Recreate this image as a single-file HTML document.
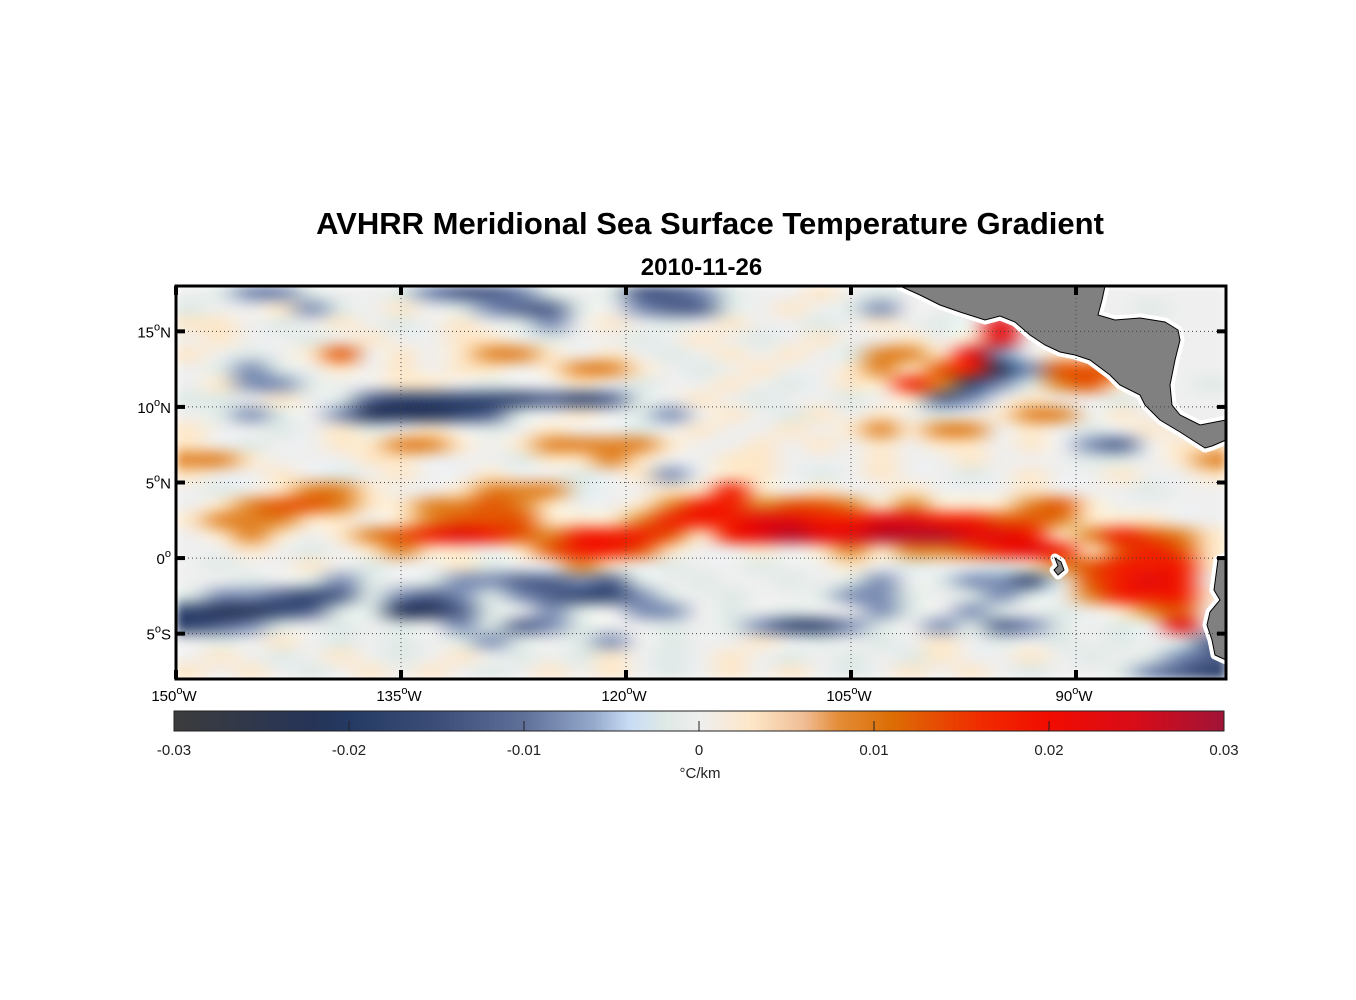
<!DOCTYPE html>
<html><head><meta charset="utf-8">
<style>
html,body{margin:0;padding:0;background:#fff;}
body{width:1356px;height:1000px;position:relative;overflow:hidden;font-family:"Liberation Sans",Arial,sans-serif;}
.t{position:absolute;white-space:nowrap;color:#000;}
</style></head><body>
<div class="t" style="left:0;width:1420px;text-align:center;top:206px;font-size:31px;font-weight:bold;">AVHRR Meridional Sea Surface Temperature Gradient</div>
<div class="t" style="left:0;width:1403px;text-align:center;top:254px;font-size:24px;font-weight:bold;">2010-11-26</div>
<canvas id="map" width="1356" height="1000" style="position:absolute;left:0;top:0;"></canvas>
<svg id="ov" width="1356" height="1000" style="position:absolute;left:0;top:0;" font-family="Liberation Sans, Arial, sans-serif"></svg>
<script>
const lonTicks=[-150,-135,-120,-105,-90];
const lonLabels=["150","135","120","105","90"];
const latTicks=[15,10,5,0,-5];
const latLabels=["15","10","5","0","5"];
const latSuffix=["N","N","N","",'S'];
const cbTicks=[-0.03,-0.02,-0.01,0,0.01,0.02,0.03];
const cbLabels=["-0.03","-0.02","-0.01","0","0.01","0.02","0.03"];
const lonStart=-150, lonStep=2, latTop=18, latStep=1;
const codeValues=[-0.03,-0.022,-0.017,-0.012,-0.008,-0.002,0,0.003,0.009,0.013,0.018,0.023,0.028];
const gridRows=[
"gfeefggfeddefgfddefgghgfggggggggggg",
"fgghefghgfeddfgeddfghgfeggggggggfgg",
"hhgfghgfghgfeghgfghggfghgfglggggggg",
"ghggfghgghhgfggfghgfghgghghlggggggg",
"hgfghjghghiihghgfghghgfiihleghggggg",
"gfefghghghhghiihgfghgghihjkbejjjggg",
"gheefgghhgfgghgfgghgfghhkicefijhggf",
"ffghgfdcccccdcdfghgfggfghdeghggfggg",
"gfefgebbbcdfghgfeghgfhghgfghiighggg",
"hggfghfghgfghggfghgghghihiighgfghgg",
"hgfgghhiihghiiiihgghghghghhghgedghh",
"iihggghhgggfhhihgghhggghgghgggffghi",
"hgghgfghgghggfgheghhgfghggfghgghggh",
"gfghiihgghiiifgghhkhghgghggghgggfgg",
"ghijjihhiijihgghikkijjihihhhijhgggg",
"hiiihhghijjjhhhikkkllkkllkkjjihhhgg",
"ghihghijklkjikkkjhklmllmmmllkhikjih",
"gghgfghihhghjkkjhgghghihiijklkhjkjh",
"gfgghgfgghfggihgfggfgghgfggfhijkkkh",
"ggfgfefgfeeddedfgfggfgfegfeecfjklkg",
"feedcdfedefedccefgfggfeefgfefgikkkh",
"cbbcdffbbdfgefgeegfgfggefgefgfghijg",
"cdefgfgfgefdefggfgfeccefgefdefgfglg",
"gfghgfgfgfefgfegfgghgfgfghgfgfgfgfd",
"ghgfghgfghgfgfhgfghgfgfgfhgghgfgfed",
"hghgfghghgfghghgfghghgfghghgfggfedc"
];
const X0=176,X1=1226,Y0=286,Y1=679,LON0=-150,LON1=-80,LAT0=18,LAT1=-8;
function xS(lon){return X0+(lon-LON0)/(LON1-LON0)*(X1-X0);}
function yS(lat){return Y0+(LAT0-lat)/(LAT0-LAT1)*(Y1-Y0);}
const stops=[[-0.03,[60,60,60]],[-0.022,[38,52,88]],[-0.02,[36,58,99]],[-0.015,[60,78,120]],[-0.01,[95,112,153]],[-0.006,[150,170,205]],[-0.004,[200,220,245]],[-0.002,[222,233,230]],[0,[239,239,239]],[0.003,[253,231,200]],[0.006,[240,190,150]],[0.008,[228,140,55]],[0.011,[220,110,5]],[0.016,[240,45,0]],[0.02,[242,12,0]],[0.025,[215,12,25]],[0.03,[160,20,55]]];
function col(v){v=Math.max(-0.03,Math.min(0.03,v));for(let i=1;i<stops.length;i++){if(v<=stops[i][0]){const a=stops[i-1],b=stops[i],t=(v-a[0])/(b[0]-a[0]);return a[1].map((c,k)=>Math.round(c+(b[1][k]-c)*t));}}return stops[stops.length-1][1];}
const cv=document.getElementById('map'),ctx=cv.getContext('2d');
const nR=gridRows.length,nC=gridRows[0].length;
const off=document.createElement('canvas');off.width=nC;off.height=nR;
const oc=off.getContext('2d');const img=oc.createImageData(nC,nR);
for(let r=0;r<nR;r++)for(let c=0;c<nC;c++){const v=codeValues[gridRows[r].charCodeAt(c)-97];const rgb=col(v);const p=(r*nC+c)*4;img.data[p]=rgb[0];img.data[p+1]=rgb[1];img.data[p+2]=rgb[2];img.data[p+3]=255;}
oc.putImageData(img,0,0);
ctx.imageSmoothingEnabled=true;ctx.imageSmoothingQuality='high';
ctx.save();ctx.beginPath();ctx.rect(X0,Y0,X1-X0,Y1-Y0);ctx.clip();
const gx0=xS(lonStart),gy0=yS(latTop),gx1=xS(lonStart+nC*lonStep),gy1=yS(latTop-nR*latStep);
const cw=(gx1-gx0)/nC,ch=(gy1-gy0)/nR;
ctx.filter='blur(5px)';
ctx.drawImage(off,-0.5,-0.5,nC+1,nR+1,gx0-cw*0.5,gy0-ch*0.5,(gx1-gx0)+cw,(gy1-gy0)+ch);
ctx.filter='none';
ctx.restore();
const CB0=174,CB1=1224,CBY=711,CBH=20;
function cbX(v){return CB0+(v+0.03)/0.06*(CB1-CB0);}
for(let x=CB0;x<CB1;x++){const v=-0.03+(x-CB0+0.5)/(CB1-CB0)*0.06;const rgb=col(v);ctx.fillStyle='rgb('+rgb.join(',')+')';ctx.fillRect(x,CBY,1,CBH);}
const NS='http://www.w3.org/2000/svg';const ov=document.getElementById('ov');
function mk(tag,attrs,parent){const e=document.createElementNS(NS,tag);for(const k in attrs)e.setAttribute(k,attrs[k]);(parent||ov).appendChild(e);return e;}
const landG=mk('g',{});


const ca="900,286 1105,286 1102,300 1098,315 1115,320 1140,318 1165,322 1178,330 1180,340 1175,360 1170,385 1172,405 1180,415 1200,425 1226,420 1226,440 1212,446 1205,448 1180,432 1160,420 1145,405 1140,395 1120,385 1110,375 1090,360 1075,355 1060,352 1045,345 1030,335 1015,322 1000,316 985,320 960,312 940,305 920,295";
const sa="1226,557 1218,560 1216,575 1214,590 1220,600 1210,612 1207,625 1212,640 1215,655 1226,660";
const gal="1055,558 1061,562 1064,570 1058,575 1054,570 1058,566";
[ca,sa,gal].forEach(p=>{mk('polygon',{points:p,fill:'#fff',stroke:'#fff','stroke-width':9,'stroke-linejoin':'round'},landG);});
const nm=['central-america-land','south-america-land','galapagos-land'];
[ca,sa,gal].forEach((p,i)=>{const e=mk('polygon',{points:p,fill:'#808080',stroke:'#000','stroke-width':1},landG);

});
mk('rect',{x:X1+1.5,y:Y0-5,width:10,height:Y1-Y0+10,fill:'#fff'});
lonTicks.forEach((lon,i)=>{const x=xS(lon);if(i>0){const l=mk('line',{x1:x,y1:Y0,x2:x,y2:Y1,stroke:'#444','stroke-width':1,'stroke-dasharray':'1,3'});

}
mk('line',{x1:x,y1:Y0,x2:x,y2:Y0+9,stroke:'#000','stroke-width':4});mk('line',{x1:x,y1:Y1,x2:x,y2:Y1-9,stroke:'#000','stroke-width':4});
const t=mk('text',{x:x-2,y:Y1+22,'text-anchor':'middle','font-size':15});t.innerHTML=lonLabels[i]+'<tspan dy="-7" font-size="11">o</tspan><tspan dy="7">W</tspan>';

});
latTicks.forEach((lat,i)=>{const y=yS(lat);const l=mk('line',{x1:X0,y1:y,x2:X1,y2:y,stroke:'#444','stroke-width':1,'stroke-dasharray':'1,3'});


mk('line',{x1:X0,y1:y,x2:X0+9,y2:y,stroke:'#000','stroke-width':4});mk('line',{x1:X1,y1:y,x2:X1-9,y2:y,stroke:'#000','stroke-width':4});
const t=mk('text',{x:X0-5,y:y+6,'text-anchor':'end','font-size':15});t.innerHTML=latLabels[i]+'<tspan dy="-7" font-size="11">o</tspan><tspan dy="7">'+latSuffix[i]+'</tspan>';

});
const fr=mk('rect',{x:X0,y:Y0,width:X1-X0,height:Y1-Y0,fill:'none',stroke:'#000','stroke-width':3});


const cbr=mk('rect',{x:CB0,y:CBY,width:CB1-CB0,height:CBH,fill:'none',stroke:'#222','stroke-width':1});


cbTicks.forEach((v,i)=>{const x=cbX(v);mk('line',{x1:x,y1:CBY+CBH,x2:x,y2:CBY+CBH-10,stroke:'#222','stroke-width':1});
const t=mk('text',{x:x,y:CBY+CBH+24,'text-anchor':'middle','font-size':15,fill:'#222'});t.textContent=cbLabels[i];

});
const u=mk('text',{x:700,y:778,'text-anchor':'middle','font-size':15,fill:'#222'});u.textContent='°C/km';


</script>
</body></html>
